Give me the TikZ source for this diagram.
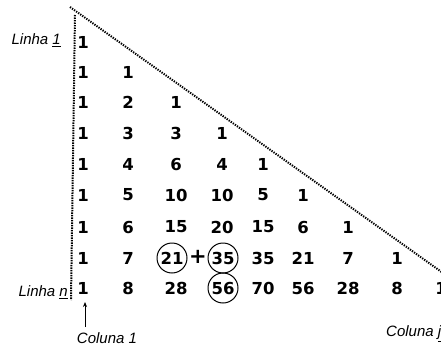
\documentclass[tikz,border=0pt]{standalone}
\usepackage{fontspec}
\setmainfont{Liberation Sans}
\newfontfamily\numfont{DejaVu Sans}
\usetikzlibrary{arrows.meta}
\tikzset{
  num/.style={font=\numfont\bfseries\fontsize{16.5}{18}\selectfont, inner sep=0pt, anchor=center},
  lbl/.style={font=\itshape\fontsize{15}{17}\selectfont, inner sep=0pt},
  dotline/.style={line width=2pt, dash pattern=on 1.3pt off 1.2pt},
  ring/.style={draw, circle, line width=1pt, minimum size=30pt, inner sep=0pt}
}
\begin{document}
\begin{tikzpicture}[x=1pt,y=-1pt]
\useasboundingbox (0,0) rectangle (441,345);
% dotted border
\coordinate (vtop) at (75,15);
\coordinate (vbot) at (71,300);
\coordinate (dtop) at (70,7);
\coordinate (dend) at (450,278);
\draw[dotline] (vtop) -- (vbot);
\draw[dotline] (dtop) -- (dend);
% numbers
\foreach \r/\y/\vals in {1/42/{1},2/72/{1,1},3/102/{1,2,1},4/133/{1,3,3,1},5/164/{1,4,6,4,1},6/195/{1,5,10,10,5,1},7/227/{1,6,15,20,15,6,1}}{
  \foreach \v [count=\c] in \vals {
    \pgfmathsetmacro{\xx}{{83,128,176,222,263,303,348,397,440}[\c-1]}
    \node[num] (n-\r-\c) at (\xx,\y) {\v};
  }
}
% row 8
\node[num] (n-8-1) at (83,258) {1};
\node[num] (n-8-2) at (128,258) {7};
\node[num] (n-8-3) at (172,258) {21};
\node[num, font=\numfont\bfseries\fontsize{21}{22}\selectfont] (plus) at (198,257) {+};
\node[num] (n-8-4) at (223,258) {35};
\node[num] (n-8-5) at (263,258) {35};
\node[num] (n-8-6) at (303,258) {21};
\node[num] (n-8-7) at (348,258) {7};
\node[num] (n-8-8) at (397,258) {1};
% row 9
\node[num] (n-9-1) at (83,288) {1};
\node[num] (n-9-2) at (128,288) {8};
\node[num] (n-9-3) at (176,288) {28};
\node[num] (n-9-4) at (223,288) {56};
\node[num] (n-9-5) at (263,288) {70};
\node[num] (n-9-6) at (303,288) {56};
\node[num] (n-9-7) at (348,288) {28};
\node[num] (n-9-8) at (397,288) {8};
\node[num] (n-9-9) at (441,288) {1};
% circles
\node[ring] (c1) at (n-8-3) {};
\node[ring] (c2) at (n-8-4) {};
\node[ring] (c3) at (n-9-4) {};
% labels
\node[lbl, anchor=east] (l1) at (61,40) {Linha \underline{1}};
\node[lbl, anchor=east] (ln) at (68,292) {Linha \underline{n}};
\node[lbl] (col1) at (107,338) {Coluna 1};
\node[lbl, anchor=west] (colj) at (386,334) {Coluna \underline{j}};
\coordinate (abot) at (85,327);
\coordinate (atop) at (85,302);
\draw[line width=0.8pt, -{Stealth[length=5pt,width=4pt]}] (abot) -- (atop);
\end{tikzpicture}
\end{document}
